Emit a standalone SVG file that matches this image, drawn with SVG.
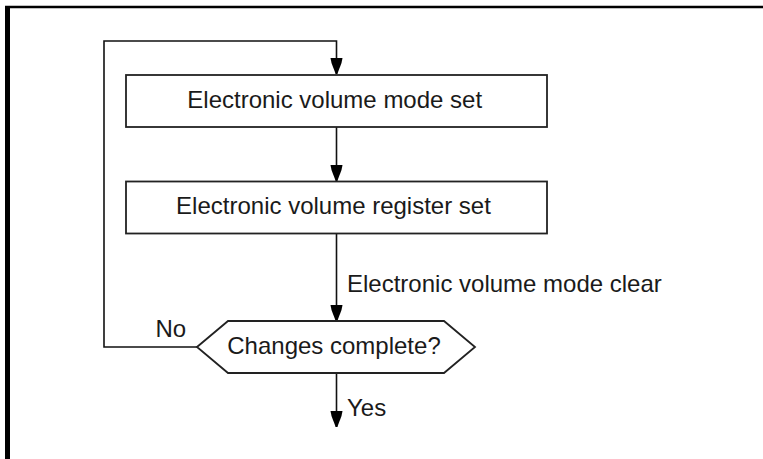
<svg xmlns="http://www.w3.org/2000/svg" width="763" height="459" viewBox="0 0 763 459">
<style>
.ln{fill:none;stroke:#111;stroke-width:1.6}
.nd{fill:#fff;stroke:#222;stroke-width:1.8}
.t{font-family:"Liberation Sans",Arial,sans-serif;font-size:24px;fill:#1a1a1a}
.c{text-anchor:middle}
</style>
<defs>
<marker id="ah" markerUnits="userSpaceOnUse" markerWidth="18" markerHeight="14" viewBox="-17 -7 18 14" refX="0" refY="0" orient="auto">
<path d="M-16,-6 L-16,6 L-11,5 L0,0.8 L0,-0.8 L-11,-5 Z" fill="#000"/>
</marker>
</defs>
<rect width="763" height="459" fill="#fff"/>
<g id="frame">
<line x1="5" y1="7" x2="763" y2="7" stroke="#000" stroke-width="2.6"/>
<line x1="7.5" y1="6" x2="7.5" y2="459" stroke="#000" stroke-width="5"/>
</g>
<g id="connectors">
<polyline class="ln" points="197,347 104,347 104,41 336.5,41 336.5,74" marker-end="url(#ah)"/>
<line class="ln" x1="336.5" y1="127" x2="336.5" y2="181" marker-end="url(#ah)"/>
<line class="ln" x1="336.5" y1="233" x2="336.5" y2="321" marker-end="url(#ah)"/>
<line class="ln" x1="336.5" y1="373" x2="336.5" y2="427" marker-end="url(#ah)"/>
<text class="t" x="347" y="292">Electronic volume mode clear</text>
<text class="t" x="155.5" y="337">No</text>
<text class="t" x="347" y="416">Yes</text>
</g>
<g id="box1">
<rect class="nd" x="126" y="75" width="421" height="52"/>
<text class="t c" x="334.7" y="108">Electronic volume mode set</text>
</g>
<g id="box2">
<rect class="nd" x="126" y="181.5" width="421" height="52"/>
<text class="t c" x="333.5" y="214">Electronic volume register set</text>
</g>
<g id="decision">
<polygon class="nd" points="197,347 228,321 444,321 475,347 444,373 228,373"/>
<text class="t c" x="334" y="354">Changes complete?</text>
</g>
</svg>
